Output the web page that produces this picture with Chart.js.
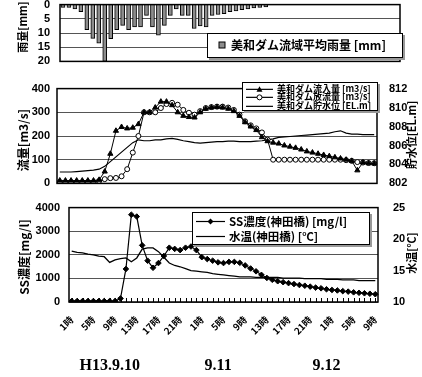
<!DOCTYPE html>
<html lang="ja">
<head>
<meta charset="utf-8">
<title>美和ダム 雨量・流量・SS濃度</title>
<script src="https://cdn.jsdelivr.net/npm/chart.js@4.4.1/dist/chart.umd.min.js"></script>
<style>
  html, body { margin: 0; padding: 0; background: #fff; }
  body { position: relative; width: 422px; height: 377px; overflow: hidden; }
  canvas { position: absolute; left: 0; }
  .ax-title {
    position: absolute; left: 0; top: 0; color: #000; white-space: nowrap;
    font: bold 11px "Noto Sans CJK JP", sans-serif;
    transform: translate(-50%, -50%) rotate(-90deg);
  }
  .legend {
    position: absolute; box-sizing: border-box; background: #fff;
    border: 1px solid #000; box-shadow: 2px 2px 0 #999;
    font-family: "Noto Sans CJK JP", sans-serif; font-weight: bold; color: #000;
  }
  .legend .row { display: flex; align-items: center; white-space: nowrap; }
  .legend svg { flex: none; }
</style>
</head>
<body>
<canvas id="rainChart" width="422" height="90" style="top:-12px"></canvas>
<canvas id="flowChart" width="422" height="122" style="top:75px"></canvas>
<canvas id="ssChart" width="422" height="185" style="top:192px"></canvas>

<div class="ax-title" style="left:22px;top:27px">雨量[mm]</div>
<div class="ax-title" style="left:22px;top:140px;font-size:12px">流量[m3/s]</div>
<div class="ax-title" style="left:411px;top:135px">貯水位[EL.m]</div>
<div class="ax-title" style="left:23px;top:257px;font-size:12px">SS濃度[mg/l]</div>
<div class="ax-title" style="left:411px;top:253px">水温[℃]</div>

<div id="rainLegend" class="legend" style="left:207px;top:33px;width:196px;height:25px;font-size:12px"></div>
<div id="flowLegend" class="legend" style="left:242px;top:82px;width:136px;height:29px;font-size:9px"></div>
<div id="ssLegend" class="legend" style="left:192px;top:212px;width:178px;height:33px;font-size:11.5px"></div>

<script>
// Hourly categories: 2001-09-10 1時 through 2001-09-12 9時
const hourLabels = [];
for (let d = 0; d < 3; d++) for (let h = 1; h <= 24; h++) hourLabels.push(h + '時');
hourLabels.length = 57;

// Date captions under the hour axis, keyed by category index
const dayLabels = ['H13.9.10', '9.11', '9.12'];
const dayLabelIndex = [7, 27, 47];

// 美和ダム流域平均雨量 [mm]
const rainfall = [1, 1, 1.5, 2.5, 8.8, 11.9, 13.6, 20, 12, 8.8, 7.3, 8.8, 7.9, 7.9, 3.8, 7.9,
  10.8, 7.3, 3.8, 1.5, 3.8, 3.8, 8.4, 7.5, 7.9, 3.8, 3.5, 3.2, 2.5, 2.2, 1.8, 1.5, 1.2, 1.0, 0.8,
  0, 0, 0, 0, 0, 0, 0, 0, 0, 0, 0, 0, 0, 0, 0, 0, 0, 0, 0, 0, 0, 0];

// 美和ダム流入量 [m3/s]
const inflow = [12, 12, 12, 12, 12, 12, 12, 15, 50, 125, 222, 238, 232, 235, 250, 300, 300, 320,
  345, 345, 330, 300, 285, 280, 278, 300, 315, 320, 322, 320, 315, 305, 285, 258, 240, 225, 195,
  178, 172, 168, 160, 155, 150, 143, 135, 130, 125, 120, 115, 110, 105, 100, 95, 55, 88, 85, 84];

// 美和ダム放流量 [m3/s]
const outflow = [5, 5, 5, 5, 5, 5, 5, 10, 18, 22, 23, 30, 60, 130, 200, 300, 300, 300, 318, 335,
  340, 332, 310, 298, 290, 305, 318, 322, 324, 324, 320, 310, 290, 262, 245, 232, 215, 185, 100,
  100, 100, 100, 100, 100, 100, 100, 100, 100, 100, 100, 100, 98, 95, 90, 88, 86, 85];

// 美和ダム貯水位 [EL.m]
const waterLevel = [803.2, 803.2, 803.2, 803.25, 803.3, 803.35, 803.4, 803.5, 803.8, 804.3, 804.8,
  805.3, 805.8, 806.3, 806.6, 806.5, 806.5, 806.6, 806.6, 806.7, 806.75, 806.65, 806.5, 806.4,
  806.3, 806.25, 806.3, 806.35, 806.4, 806.4, 806.45, 806.45, 806.4, 806.4, 806.4, 806.45, 806.5,
  806.6, 806.7, 806.85, 806.9, 806.95, 807.0, 807.05, 807.1, 807.15, 807.2, 807.25, 807.3, 807.45,
  807.55, 807.3, 807.2, 807.2, 807.15, 807.15, 807.15];

// SS濃度(神田橋) [mg/l]
const ssConc = [40, 40, 40, 40, 40, 40, 40, 40, 40, 150, 1400, 3700, 3620, 2400, 1750, 1450, 1650,
  1950, 2300, 2250, 2200, 2300, 2350, 2200, 1900, 1820, 1750, 1680, 1650, 1700, 1700, 1660, 1550,
  1420, 1300, 1150, 1020, 940, 880, 840, 800, 760, 720, 690, 650, 610, 580, 540, 510, 490, 460,
  440, 410, 390, 370, 350, 330];

// 水温(神田橋) [℃]
const waterTemp = [18.1, 17.9, 17.8, 17.6, 17.5, 17.3, 17.2, 16.3, 16.7, 16.9, 17.0, 16.4, 17.0,
  18.4, 18.6, 18.6, 18.0, 17.1, 16.2, 15.8, 15.6, 15.3, 15.0, 14.9, 14.8, 14.7, 14.5, 14.4, 14.3,
  14.2, 14.1, 14.0, 14.0, 14.0, 13.9, 13.9, 13.9, 13.9, 13.9, 13.8, 13.8, 13.8, 13.8, 13.7, 13.7,
  13.7, 13.7, 13.6, 13.6, 13.6, 13.5, 13.5, 13.5, 13.4, 13.4, 13.4, 13.4];

Chart.defaults.font.family = '"Liberation Sans", Arial, sans-serif';
Chart.defaults.font.weight = 'bold';
Chart.defaults.font.size = 11;
Chart.defaults.color = '#000';
Chart.defaults.animation = false;
Chart.defaults.responsive = false;
Chart.defaults.plugins.legend.display = false;
Chart.defaults.plugins.tooltip.enabled = false;

const fixWidth = w => scale => { scale.width = w; };
const fixHeight = h => scale => { scale.height = h; };
const plainNumber = v => String(v);
const GRID = '#555';

// Black frame around each plot area
const framePlugin = {
  id: 'frame',
  afterDatasetsDraw(chart) {
    const a = chart.chartArea, ctx = chart.ctx;
    ctx.save();
    ctx.strokeStyle = '#000';
    ctx.lineWidth = 1.5;
    ctx.strokeRect(a.left, a.top, a.right - a.left, a.bottom - a.top);
    ctx.restore();
  }
};

// Short hourly tick marks pointing up from the bottom edge
const innerTicksPlugin = {
  id: 'innerTicks',
  afterDatasetsDraw(chart) {
    const xs = chart.scales.x, ctx = chart.ctx, b = chart.chartArea.bottom;
    ctx.save();
    ctx.strokeStyle = '#000';
    ctx.lineWidth = 1;
    for (let i = 0; i < hourLabels.length; i++) {
      const x = Math.round(xs.getPixelForValue(i)) + 0.5;
      ctx.beginPath();
      ctx.moveTo(x, b);
      ctx.lineTo(x, b - 4);
      ctx.stroke();
    }
    ctx.restore();
  }
};

function valueAxis(opts) {
  const base = {
    position: 'left',
    border: { display: false },
    grid: { color: GRID, lineWidth: 1, drawTicks: false }
  };
  const o = Object.assign(base, opts);
  o.ticks = Object.assign({ autoSkip: false, padding: 7, callback: plainNumber }, opts.ticks || {});
  return o;
}

// ---- 雨量 ----
const rainChart = new Chart(document.getElementById('rainChart'), {
  type: 'bar',
  data: {
    labels: hourLabels,
    datasets: [{
      label: '美和ダム流域平均雨量 [mm]',
      data: rainfall,
      backgroundColor: '#8c8c8c',
      borderColor: '#000',
      borderWidth: 1,
      barThickness: 4
    }]
  },
  options: {
    layout: { padding: { top: 0, right: 22, bottom: 0, left: 0 } },
    scales: {
      x: { display: false },
      y: valueAxis({
        reverse: true, min: 0, max: 20,
        ticks: { stepSize: 5, padding: 10 },
        afterFit: fixWidth(60)
      })
    }
  },
  plugins: [framePlugin]
});

// ---- 流量・貯水位 ----
const flowChart = new Chart(document.getElementById('flowChart'), {
  type: 'line',
  data: {
    labels: hourLabels,
    datasets: [
      {
        label: '美和ダム流入量 [m3/s]', data: inflow, yAxisID: 'y',
        borderColor: '#000', borderWidth: 1, pointStyle: 'triangle', pointRadius: 3,
        pointBackgroundColor: '#000', pointBorderColor: '#000', pointBorderWidth: 1
      },
      {
        label: '美和ダム放流量 [m3/s]', data: outflow, yAxisID: 'y',
        borderColor: '#000', borderWidth: 1, pointStyle: 'circle', pointRadius: 2.5,
        pointBackgroundColor: '#fff', pointBorderColor: '#000', pointBorderWidth: 1
      },
      {
        label: '美和ダム貯水位 [EL.m]', data: waterLevel, yAxisID: 'y2',
        borderColor: '#000', borderWidth: 1.2, pointRadius: 0
      }
    ]
  },
  options: {
    layout: { padding: 0 },
    scales: {
      x: { display: false, offset: true },
      y: valueAxis({ min: 0, max: 400, ticks: { stepSize: 100, padding: 7 }, afterFit: fixWidth(57) }),
      y2: valueAxis({
        position: 'right', min: 802, max: 812,
        grid: { display: false },
        ticks: { stepSize: 2, padding: 4 },
        afterFit: fixWidth(45)
      })
    }
  },
  plugins: [framePlugin]
});

// ---- SS濃度・水温 ----
const ssChart = new Chart(document.getElementById('ssChart'), {
  type: 'line',
  data: {
    labels: hourLabels,
    datasets: [
      {
        label: 'SS濃度(神田橋) [mg/l]', data: ssConc, yAxisID: 'y',
        borderColor: '#000', borderWidth: 1.2, pointStyle: 'rectRot', pointRadius: 2.8,
        pointBackgroundColor: '#000', pointBorderColor: '#000', pointBorderWidth: 1
      },
      {
        label: '水温(神田橋) [℃]', data: waterTemp, yAxisID: 'y2',
        borderColor: '#000', borderWidth: 1.3, pointRadius: 0
      }
    ]
  },
  options: {
    layout: { padding: 0 },
    scales: {
      x: {
        offset: true, weight: 0,
        grid: { display: false }, border: { display: false },
        ticks: {
          autoSkip: false, minRotation: 45, maxRotation: 45, padding: 4,
          font: { family: '"Noto Sans CJK JP", sans-serif', size: 9.5, weight: 'bold' },
          callback: (v, i) => (i % 4 === 0 ? hourLabels[i] : '')
        },
        afterFit: fixHeight(40)
      },
      xd: {
        type: 'category', position: 'bottom', offset: true, weight: 1,
        grid: { display: false }, border: { display: false },
        ticks: {
          autoSkip: false, minRotation: 0, maxRotation: 0, padding: 6,
          font: { family: '"Liberation Serif", "DejaVu Serif", serif', size: 16, weight: 'bold' },
          callback: (v, i) => {
            const k = dayLabelIndex.indexOf(i);
            return k >= 0 ? dayLabels[k] : '';
          }
        },
        afterFit: fixHeight(35)
      },
      y: valueAxis({ min: 0, max: 4000, ticks: { stepSize: 1000, padding: 9 }, afterFit: fixWidth(69) }),
      y2: valueAxis({
        position: 'right', min: 10, max: 25,
        grid: { display: false },
        ticks: { stepSize: 5, padding: 7 },
        afterFit: fixWidth(44)
      })
    }
  },
  plugins: [framePlugin, innerTicksPlugin]
});

// ---- HTML legends built from each chart's datasets ----
function sampleSvg(ds, w, h, isBar) {
  const cy = h / 2, cx = w / 2;
  let s = `<svg width="${w}" height="${h}" viewBox="0 0 ${w} ${h}" style="overflow:visible">`;
  if (isBar) {
    s += `<rect x="${cx - 3}" y="${cy - 3}" width="6" height="6" fill="${ds.backgroundColor}" stroke="#000" stroke-width="1"/>`;
  } else {
    s += `<line x1="2" y1="${cy}" x2="${w - 2}" y2="${cy}" stroke="#000" stroke-width="1.2"/>`;
    const r = 3;
    if (ds.pointRadius) {
      if (ds.pointStyle === 'triangle') {
        s += `<polygon points="${cx},${cy - r} ${cx + r},${cy + r * 0.8} ${cx - r},${cy + r * 0.8}" fill="#000"/>`;
      } else if (ds.pointStyle === 'circle') {
        s += `<circle cx="${cx}" cy="${cy}" r="${r - 0.5}" fill="#fff" stroke="#000" stroke-width="1"/>`;
      } else if (ds.pointStyle === 'rectRot') {
        s += `<polygon points="${cx},${cy - r} ${cx + r},${cy} ${cx},${cy + r} ${cx - r},${cy}" fill="#000"/>`;
      }
    }
  }
  return s + '</svg>';
}

function buildLegend(el, chart, opt) {
  el.innerHTML = chart.data.datasets.map(ds =>
    `<div class="row" style="height:${opt.rowH}px;line-height:${opt.rowH}px;padding-left:${opt.padL}px">` +
    sampleSvg(ds, opt.sampleW, opt.rowH, opt.bar) +
    `<span style="margin-left:${opt.gap}px">${ds.label}</span></div>`
  ).join('');
  el.style.paddingTop = opt.padT + 'px';
}

buildLegend(document.getElementById('rainLegend'), rainChart,
  { rowH: 22, padL: 8, padT: 0, sampleW: 12, gap: 3, bar: true });
buildLegend(document.getElementById('flowLegend'), flowChart,
  { rowH: 8.7, padL: 1, padT: 1.5, sampleW: 31, gap: 2, bar: false });
buildLegend(document.getElementById('ssLegend'), ssChart,
  { rowH: 15, padL: 1, padT: 1, sampleW: 33, gap: 2, bar: false });
</script>
</body>
</html>
